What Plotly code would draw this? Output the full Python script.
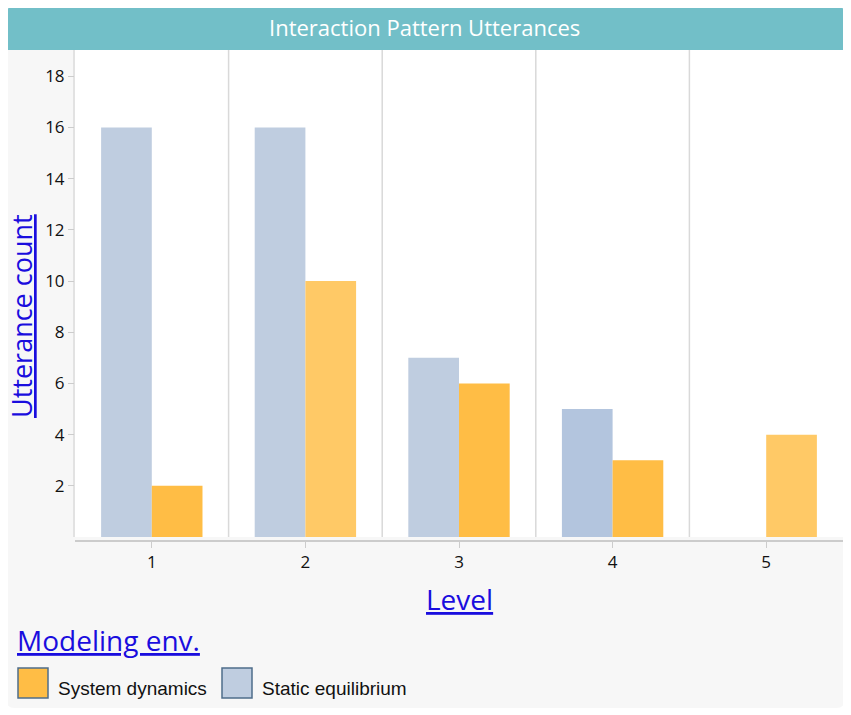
import plotly.graph_objects as go

# data
levels = ["1", "2", "3", "4", "5"]
static_eq = [16, 16, 7, 5, None]
system_dyn = [2, 10, 6, 3, 4]
y_ticks = [2, 4, 6, 8, 10, 12, 14, 16, 18]

series_names = ["System dynamics", "Static equilibrium"]
series_colors = ["#FFBD45", "#BFCDE0"]
# a few bars in the screenshot are drawn in a lighter/darker shade
system_dyn_colors = ["#FFBD45", "#FFC966", "#FFBD45", "#FFBD45", "#FFC966"]
static_eq_colors = ["#BFCDE0", "#BFCDE0", "#BFCDE0", "#B3C5DE", "#BFCDE0"]

# the page body adds an 8px margin, so the figure is shrunk and shifted
OFF = 8
W, H = 851 - OFF, 715 - OFF
# positions below are screen pixels
PLOT_L, PLOT_R, PLOT_T, PLOT_B = 75, 843, 50, 541
BAR_BOTTOM = 537
LINK_BLUE = "#1A0DDE"
FONT = "Open Sans"


def px_x(x):
    return (x - PLOT_L) / (PLOT_R - PLOT_L)


def px_y(y):
    return (PLOT_B - y) / (PLOT_B - PLOT_T)


def rounded_rect(x0, y0, x1, y1, r_top, r_bot):
    """SVG path (paper coords) for a rect with rounded corners, pixel input."""
    pts = []
    pts.append(f"M{px_x(x0 + r_top)},{px_y(y0)}")
    pts.append(f"L{px_x(x1 - r_top)},{px_y(y0)}")
    pts.append(f"Q{px_x(x1)},{px_y(y0)} {px_x(x1)},{px_y(y0 + r_top)}")
    pts.append(f"L{px_x(x1)},{px_y(y1 - r_bot)}")
    pts.append(f"Q{px_x(x1)},{px_y(y1)} {px_x(x1 - r_bot)},{px_y(y1)}")
    pts.append(f"L{px_x(x0 + r_bot)},{px_y(y1)}")
    pts.append(f"Q{px_x(x0)},{px_y(y1)} {px_x(x0)},{px_y(y1 - r_bot)}")
    pts.append(f"L{px_x(x0)},{px_y(y0 + r_top)}")
    pts.append(f"Q{px_x(x0)},{px_y(y0)} {px_x(x0 + r_top)},{px_y(y0)}Z")
    return " ".join(pts)


def text_note(text, x, y, font, **kw):
    note = dict(
        text=text,
        xref="paper",
        yref="paper",
        x=px_x(x),
        y=px_y(y),
        xanchor="center",
        yanchor="middle",
        showarrow=False,
        font=font,
    )
    note.update(kw)
    return note


fig = go.Figure()
fig.add_trace(
    go.Bar(
        x=levels,
        y=static_eq,
        name=series_names[1],
        marker=dict(color=static_eq_colors, line=dict(width=0)),
        showlegend=False,
    )
)
fig.add_trace(
    go.Bar(
        x=levels,
        y=system_dyn,
        name=series_names[0],
        marker=dict(color=system_dyn_colors, line=dict(width=0)),
        showlegend=False,
    )
)

shapes = [
    # card background
    dict(
        type="path",
        xref="paper",
        yref="paper",
        path=rounded_rect(6, 6, 845, 708, 9, 9),
        fillcolor="#F7F7F7",
        line=dict(width=0),
        layer="below",
    ),
    # white plot area
    dict(
        type="rect",
        xref="paper",
        yref="paper",
        x0=px_x(73),
        x1=px_x(PLOT_R),
        y0=px_y(BAR_BOTTOM),
        y1=1,
        fillcolor="white",
        line=dict(width=0),
        layer="below",
    ),
    # left axis line
    dict(
        type="line",
        xref="paper",
        yref="paper",
        x0=px_x(74),
        x1=px_x(74),
        y0=px_y(BAR_BOTTOM),
        y1=1,
        line=dict(color="#D9D9D9", width=1.5),
        layer="below",
    ),
]

# vertical separators between level bands
for i in range(len(levels) - 1):
    shapes.append(
        dict(
            type="line",
            xref="x",
            yref="paper",
            x0=i + 0.5,
            x1=i + 0.5,
            y0=px_y(BAR_BOTTOM),
            y1=1,
            line=dict(color="#D9D9D9", width=1.5),
            layer="below",
        )
    )

# header band
shapes.append(
    dict(
        type="path",
        xref="paper",
        yref="paper",
        path=rounded_rect(6, 6, 845, 50, 9, 0.01),
        fillcolor="#72BFC8",
        line=dict(width=0),
        layer="above",
    )
)

link_font = dict(family=FONT, size=28, color=LINK_BLUE, lineposition="under")
annotations = [
    text_note(
        "Interaction Pattern Utterances",
        424,
        27,
        dict(family=FONT, size=22, color="white"),
    ),
    text_note(
        "Utterance count",
        22,
        316,
        dict(link_font, size=27),
        textangle=-90,
    ),
    text_note("Level", 459, 599, link_font),
    text_note("Modeling env.", 15, 640, link_font, xanchor="left"),
]

# custom legend with large swatches
legend_x = [18, 222]
for name, color, x0 in zip(series_names, series_colors, legend_x):
    shapes.append(
        dict(
            type="rect",
            xref="paper",
            yref="paper",
            x0=px_x(x0),
            x1=px_x(x0 + 30),
            y0=px_y(698),
            y1=px_y(668),
            fillcolor=color,
            line=dict(color="#4F6D8A", width=1.5),
        )
    )
    annotations.append(
        text_note(
            name,
            x0 + 38,
            688,
            dict(family="Liberation Sans", size=19, color="#111111"),
            xanchor="left",
        )
    )

tick_font = dict(family=FONT, size=17, color="#111111", weight=500)

fig.update_layout(
    width=W,
    height=H,
    margin=dict(l=PLOT_L - OFF, r=851 - PLOT_R, t=PLOT_T - OFF, b=715 - PLOT_B),
    paper_bgcolor="white",
    plot_bgcolor="rgba(0,0,0,0)",
    barmode="group",
    bargap=0.34,
    bargroupgap=0,
    shapes=shapes,
    annotations=annotations,
    xaxis=dict(
        type="category",
        anchor="free",
        position=0,
        showgrid=False,
        zeroline=False,
        showline=True,
        linecolor="#CCCCCC",
        linewidth=2,
        ticks="outside",
        ticklen=6,
        tickcolor="#CCCCCC",
        tickfont=tick_font,
    ),
    yaxis=dict(
        domain=[px_y(BAR_BOTTOM), 1],
        range=[0, 19.03],
        tickvals=y_ticks,
        showgrid=False,
        zeroline=False,
        showline=False,
        ticks="outside",
        ticklen=6,
        tickcolor="#CCCCCC",
        tickfont=tick_font,
    ),
)

fig.write_html("out.html")
